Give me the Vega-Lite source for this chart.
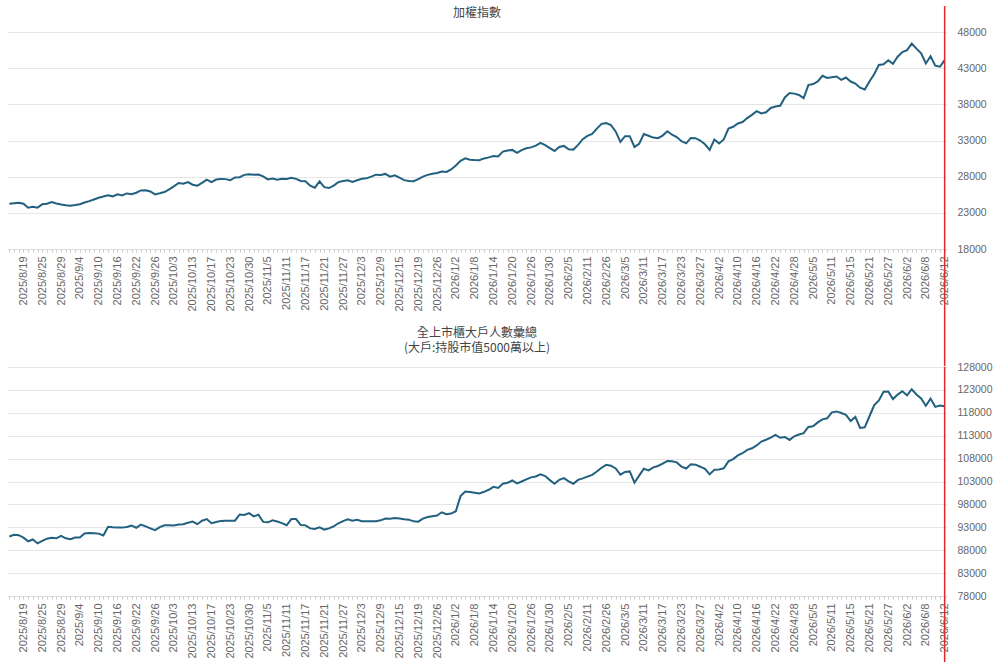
{
  "$schema": "https://vega.github.io/schema/vega-lite/v6.json",
  "description": "加權指數與全上市櫃大戶人數彙總",
  "padding": {"left": 3, "top": 5, "right": 0, "bottom": 0},
  "bounds": "flush",
  "spacing": 118,
  "datasets": {
    "daily": [
      {"date": "2025/8/14", "taiex": 24260, "holders": 90990},
      {"date": "2025/8/15", "taiex": 24330, "holders": 91350},
      {"date": "2025/8/18", "taiex": 24400, "holders": 91280},
      {"date": "2025/8/19", "taiex": 24250, "holders": 90750},
      {"date": "2025/8/20", "taiex": 23700, "holders": 89950},
      {"date": "2025/8/21", "taiex": 23850, "holders": 90340},
      {"date": "2025/8/22", "taiex": 23720, "holders": 89480},
      {"date": "2025/8/25", "taiex": 24200, "holders": 90020},
      {"date": "2025/8/26", "taiex": 24250, "holders": 90520},
      {"date": "2025/8/27", "taiex": 24480, "holders": 90700},
      {"date": "2025/8/28", "taiex": 24300, "holders": 90600},
      {"date": "2025/8/29", "taiex": 24150, "holders": 91150},
      {"date": "2025/9/1", "taiex": 24050, "holders": 90600},
      {"date": "2025/9/2", "taiex": 23990, "holders": 90420},
      {"date": "2025/9/3", "taiex": 24080, "holders": 90780},
      {"date": "2025/9/4", "taiex": 24190, "holders": 90780},
      {"date": "2025/9/5", "taiex": 24420, "holders": 91650},
      {"date": "2025/9/8", "taiex": 24620, "holders": 91780},
      {"date": "2025/9/9", "taiex": 24850, "holders": 91720},
      {"date": "2025/9/10", "taiex": 25080, "holders": 91620},
      {"date": "2025/9/11", "taiex": 25250, "holders": 91220},
      {"date": "2025/9/12", "taiex": 25420, "holders": 93100},
      {"date": "2025/9/15", "taiex": 25280, "holders": 93000},
      {"date": "2025/9/16", "taiex": 25560, "holders": 92960},
      {"date": "2025/9/17", "taiex": 25400, "holders": 92930},
      {"date": "2025/9/18", "taiex": 25680, "holders": 93060},
      {"date": "2025/9/19", "taiex": 25580, "holders": 93400},
      {"date": "2025/9/22", "taiex": 25780, "holders": 92900},
      {"date": "2025/9/23", "taiex": 26100, "holders": 93600},
      {"date": "2025/9/24", "taiex": 26120, "holders": 93200},
      {"date": "2025/9/25", "taiex": 25950, "holders": 92750},
      {"date": "2025/9/26", "taiex": 25550, "holders": 92380},
      {"date": "2025/9/30", "taiex": 25700, "holders": 93050},
      {"date": "2025/10/1", "taiex": 25880, "holders": 93450},
      {"date": "2025/10/2", "taiex": 26250, "holders": 93450},
      {"date": "2025/10/3", "taiex": 26650, "holders": 93380},
      {"date": "2025/10/7", "taiex": 27120, "holders": 93600},
      {"date": "2025/10/8", "taiex": 27030, "holders": 93650},
      {"date": "2025/10/9", "taiex": 27260, "holders": 93980},
      {"date": "2025/10/13", "taiex": 26890, "holders": 94250},
      {"date": "2025/10/14", "taiex": 26750, "holders": 93680},
      {"date": "2025/10/15", "taiex": 27150, "holders": 94440},
      {"date": "2025/10/16", "taiex": 27590, "holders": 94800},
      {"date": "2025/10/17", "taiex": 27260, "holders": 93900},
      {"date": "2025/10/20", "taiex": 27600, "holders": 94150},
      {"date": "2025/10/21", "taiex": 27690, "holders": 94400},
      {"date": "2025/10/22", "taiex": 27660, "holders": 94440},
      {"date": "2025/10/23", "taiex": 27500, "holders": 94440},
      {"date": "2025/10/27", "taiex": 27900, "holders": 94440},
      {"date": "2025/10/28", "taiex": 27920, "holders": 95800},
      {"date": "2025/10/29", "taiex": 28250, "holders": 95700},
      {"date": "2025/10/30", "taiex": 28320, "holders": 96100},
      {"date": "2025/10/31", "taiex": 28280, "holders": 95380},
      {"date": "2025/11/3", "taiex": 28290, "holders": 95740},
      {"date": "2025/11/4", "taiex": 28050, "holders": 94180},
      {"date": "2025/11/5", "taiex": 27620, "holders": 94080},
      {"date": "2025/11/6", "taiex": 27730, "holders": 94520},
      {"date": "2025/11/7", "taiex": 27590, "holders": 94280},
      {"date": "2025/11/10", "taiex": 27720, "holders": 93900},
      {"date": "2025/11/11", "taiex": 27680, "holders": 93440},
      {"date": "2025/11/12", "taiex": 27850, "holders": 94800},
      {"date": "2025/11/13", "taiex": 27700, "holders": 94800},
      {"date": "2025/11/14", "taiex": 27400, "holders": 93500},
      {"date": "2025/11/17", "taiex": 27360, "holders": 93420},
      {"date": "2025/11/18", "taiex": 26750, "holders": 92760},
      {"date": "2025/11/19", "taiex": 26480, "holders": 92650},
      {"date": "2025/11/20", "taiex": 27360, "holders": 93010},
      {"date": "2025/11/21", "taiex": 26550, "holders": 92500},
      {"date": "2025/11/24", "taiex": 26430, "holders": 92770},
      {"date": "2025/11/25", "taiex": 26760, "holders": 93220},
      {"date": "2025/11/26", "taiex": 27250, "holders": 93880},
      {"date": "2025/11/27", "taiex": 27400, "holders": 94350},
      {"date": "2025/11/28", "taiex": 27500, "holders": 94730},
      {"date": "2025/12/1", "taiex": 27270, "holders": 94450},
      {"date": "2025/12/2", "taiex": 27500, "holders": 94650},
      {"date": "2025/12/3", "taiex": 27720, "holders": 94330},
      {"date": "2025/12/4", "taiex": 27770, "holders": 94300},
      {"date": "2025/12/5", "taiex": 28000, "holders": 94300},
      {"date": "2025/12/8", "taiex": 28280, "holders": 94320},
      {"date": "2025/12/9", "taiex": 28230, "holders": 94520},
      {"date": "2025/12/10", "taiex": 28380, "holders": 94920},
      {"date": "2025/12/11", "taiex": 28000, "holders": 94890},
      {"date": "2025/12/12", "taiex": 28190, "holders": 95050},
      {"date": "2025/12/15", "taiex": 27860, "holders": 94940},
      {"date": "2025/12/16", "taiex": 27520, "holders": 94780},
      {"date": "2025/12/17", "taiex": 27400, "holders": 94670},
      {"date": "2025/12/18", "taiex": 27380, "holders": 94300},
      {"date": "2025/12/19", "taiex": 27650, "holders": 94230},
      {"date": "2025/12/22", "taiex": 28000, "holders": 94900},
      {"date": "2025/12/23", "taiex": 28250, "holders": 95260},
      {"date": "2025/12/24", "taiex": 28400, "holders": 95420},
      {"date": "2025/12/26", "taiex": 28500, "holders": 95580},
      {"date": "2025/12/29", "taiex": 28700, "holders": 96280},
      {"date": "2025/12/30", "taiex": 28650, "holders": 95850},
      {"date": "2025/12/31", "taiex": 29000, "holders": 95990},
      {"date": "2026/1/2", "taiex": 29550, "holders": 96500},
      {"date": "2026/1/5", "taiex": 30200, "holders": 99800},
      {"date": "2026/1/6", "taiex": 30530, "holders": 100800},
      {"date": "2026/1/7", "taiex": 30350, "holders": 100700},
      {"date": "2026/1/8", "taiex": 30300, "holders": 100560},
      {"date": "2026/1/9", "taiex": 30270, "holders": 100400},
      {"date": "2026/1/12", "taiex": 30520, "holders": 100750},
      {"date": "2026/1/13", "taiex": 30670, "holders": 101200},
      {"date": "2026/1/14", "taiex": 30850, "holders": 101830},
      {"date": "2026/1/15", "taiex": 30800, "holders": 101580},
      {"date": "2026/1/16", "taiex": 31460, "holders": 102520},
      {"date": "2026/1/19", "taiex": 31620, "holders": 102730},
      {"date": "2026/1/20", "taiex": 31700, "holders": 103220},
      {"date": "2026/1/21", "taiex": 31280, "holders": 102600},
      {"date": "2026/1/22", "taiex": 31660, "holders": 103000},
      {"date": "2026/1/23", "taiex": 31930, "holders": 103480},
      {"date": "2026/1/26", "taiex": 32050, "holders": 103900},
      {"date": "2026/1/27", "taiex": 32300, "holders": 104100},
      {"date": "2026/1/28", "taiex": 32680, "holders": 104580},
      {"date": "2026/1/29", "taiex": 32350, "holders": 104200},
      {"date": "2026/1/30", "taiex": 31950, "holders": 103300},
      {"date": "2026/2/2", "taiex": 31560, "holders": 102500},
      {"date": "2026/2/3", "taiex": 32100, "holders": 103380},
      {"date": "2026/2/4", "taiex": 32250, "holders": 103750},
      {"date": "2026/2/5", "taiex": 31780, "holders": 103020},
      {"date": "2026/2/6", "taiex": 31740, "holders": 102510},
      {"date": "2026/2/9", "taiex": 32400, "holders": 103350},
      {"date": "2026/2/10", "taiex": 33180, "holders": 103680},
      {"date": "2026/2/11", "taiex": 33630, "holders": 104060},
      {"date": "2026/2/23", "taiex": 33900, "holders": 104460},
      {"date": "2026/2/24", "taiex": 34650, "holders": 105180},
      {"date": "2026/2/25", "taiex": 35300, "holders": 106000},
      {"date": "2026/2/26", "taiex": 35400, "holders": 106650},
      {"date": "2026/3/2", "taiex": 35120, "holders": 106440},
      {"date": "2026/3/3", "taiex": 34250, "holders": 105840},
      {"date": "2026/3/4", "taiex": 32810, "holders": 104500},
      {"date": "2026/3/5", "taiex": 33600, "holders": 105100},
      {"date": "2026/3/6", "taiex": 33600, "holders": 105200},
      {"date": "2026/3/9", "taiex": 32110, "holders": 102730},
      {"date": "2026/3/10", "taiex": 32550, "holders": 104280},
      {"date": "2026/3/11", "taiex": 33900, "holders": 105780},
      {"date": "2026/3/12", "taiex": 33650, "holders": 105420},
      {"date": "2026/3/13", "taiex": 33400, "holders": 106100},
      {"date": "2026/3/16", "taiex": 33320, "holders": 106380},
      {"date": "2026/3/17", "taiex": 33680, "holders": 106880},
      {"date": "2026/3/18", "taiex": 34280, "holders": 107480},
      {"date": "2026/3/19", "taiex": 33800, "holders": 107420},
      {"date": "2026/3/20", "taiex": 33480, "holders": 107170},
      {"date": "2026/3/23", "taiex": 32900, "holders": 106250},
      {"date": "2026/3/24", "taiex": 32600, "holders": 105830},
      {"date": "2026/3/25", "taiex": 33350, "holders": 106760},
      {"date": "2026/3/26", "taiex": 33320, "holders": 106670},
      {"date": "2026/3/27", "taiex": 33000, "holders": 106230},
      {"date": "2026/3/30", "taiex": 32480, "holders": 105750},
      {"date": "2026/3/31", "taiex": 31700, "holders": 104550},
      {"date": "2026/4/1", "taiex": 33130, "holders": 105550},
      {"date": "2026/4/2", "taiex": 32600, "holders": 105620},
      {"date": "2026/4/7", "taiex": 33150, "holders": 105880},
      {"date": "2026/4/8", "taiex": 34650, "holders": 107400},
      {"date": "2026/4/9", "taiex": 34900, "holders": 107900},
      {"date": "2026/4/10", "taiex": 35350, "holders": 108700},
      {"date": "2026/4/13", "taiex": 35550, "holders": 109180},
      {"date": "2026/4/14", "taiex": 36100, "holders": 109900},
      {"date": "2026/4/15", "taiex": 36550, "holders": 110260},
      {"date": "2026/4/16", "taiex": 37050, "holders": 110880},
      {"date": "2026/4/17", "taiex": 36750, "holders": 111720},
      {"date": "2026/4/20", "taiex": 36900, "holders": 112110},
      {"date": "2026/4/21", "taiex": 37500, "holders": 112560},
      {"date": "2026/4/22", "taiex": 37700, "holders": 113160},
      {"date": "2026/4/23", "taiex": 37800, "holders": 112550},
      {"date": "2026/4/24", "taiex": 38950, "holders": 112720},
      {"date": "2026/4/27", "taiex": 39550, "holders": 112080},
      {"date": "2026/4/28", "taiex": 39480, "holders": 112870},
      {"date": "2026/4/29", "taiex": 39300, "holders": 113250},
      {"date": "2026/4/30", "taiex": 38850, "holders": 113560},
      {"date": "2026/5/4", "taiex": 40660, "holders": 114900},
      {"date": "2026/5/5", "taiex": 40800, "holders": 115050},
      {"date": "2026/5/6", "taiex": 41160, "holders": 115900},
      {"date": "2026/5/7", "taiex": 41950, "holders": 116570},
      {"date": "2026/5/8", "taiex": 41650, "holders": 116790},
      {"date": "2026/5/11", "taiex": 41750, "holders": 118100},
      {"date": "2026/5/12", "taiex": 41850, "holders": 118300},
      {"date": "2026/5/13", "taiex": 41380, "holders": 117950},
      {"date": "2026/5/14", "taiex": 41710, "holders": 117550},
      {"date": "2026/5/15", "taiex": 41150, "holders": 116200},
      {"date": "2026/5/18", "taiex": 40880, "holders": 117100},
      {"date": "2026/5/19", "taiex": 40300, "holders": 114700},
      {"date": "2026/5/20", "taiex": 40050, "holders": 114830},
      {"date": "2026/5/21", "taiex": 41160, "holders": 117250},
      {"date": "2026/5/22", "taiex": 42150, "holders": 119650},
      {"date": "2026/5/25", "taiex": 43450, "holders": 120700},
      {"date": "2026/5/26", "taiex": 43530, "holders": 122600},
      {"date": "2026/5/27", "taiex": 44100, "holders": 122640},
      {"date": "2026/5/28", "taiex": 43600, "holders": 121000},
      {"date": "2026/5/29", "taiex": 44580, "holders": 121980},
      {"date": "2026/6/1", "taiex": 45230, "holders": 122700},
      {"date": "2026/6/2", "taiex": 45500, "holders": 121800},
      {"date": "2026/6/3", "taiex": 46400, "holders": 123150},
      {"date": "2026/6/4", "taiex": 45700, "holders": 122000},
      {"date": "2026/6/5", "taiex": 45040, "holders": 121150},
      {"date": "2026/6/8", "taiex": 43650, "holders": 119550},
      {"date": "2026/6/9", "taiex": 44650, "holders": 121100},
      {"date": "2026/6/10", "taiex": 43350, "holders": 119300},
      {"date": "2026/6/11", "taiex": 43200, "holders": 119600},
      {"date": "2026/6/12", "taiex": 44120, "holders": 119430}
    ]
  },
  "data": {"name": "daily"},
  "vconcat": [
    {
      "width": 940,
      "height": 217,
      "title": {"text": "加權指數", "offset": -15},
      "encoding": {
        "x": {
          "field": "date",
          "type": "ordinal",
          "sort": null,
          "title": null,
          "scale": {"type": "point", "padding": 0.5},
          "axis": {
            "labelExpr": "indexof(['2025/8/19','2025/8/25','2025/8/29','2025/9/4','2025/9/10','2025/9/16','2025/9/22','2025/9/26','2025/10/3','2025/10/13','2025/10/17','2025/10/23','2025/10/30','2025/11/5','2025/11/11','2025/11/17','2025/11/21','2025/11/27','2025/12/3','2025/12/9','2025/12/15','2025/12/19','2025/12/26','2026/1/2','2026/1/8','2026/1/14','2026/1/20','2026/1/26','2026/1/30','2026/2/5','2026/2/11','2026/2/26','2026/3/5','2026/3/11','2026/3/17','2026/3/23','2026/3/27','2026/4/2','2026/4/10','2026/4/16','2026/4/22','2026/4/28','2026/5/5','2026/5/11','2026/5/15','2026/5/21','2026/5/27','2026/6/2','2026/6/8','2026/6/12'], datum.value) >= 0 ? datum.label : ''"
          }
        }
      },
      "layer": [
        {
          "mark": {"type": "line", "color": "#22607f", "strokeWidth": 2},
          "encoding": {
            "y": {
              "field": "taiex",
              "type": "quantitative",
              "title": null,
              "scale": {"domain": [18000, 48000], "nice": false, "zero": false},
              "axis": {"values": [18000, 23000, 28000, 33000, 38000, 43000, 48000], "format": "d"}
            }
          }
        },
        {
          "transform": [{"filter": "datum.date == '2026/6/12'"}],
          "mark": {"type": "rule", "color": "#e0282e", "strokeWidth": 1.5},
          "encoding": {
            "y": {"datum": 51600, "type": "quantitative", "axis": {"values": [18000, 23000, 28000, 33000, 38000, 43000, 48000], "format": "d"}},
            "y2": {"datum": 1800}
          }
        }
      ]
    },
    {
      "width": 940,
      "height": 229,
      "title": {"text": ["全上市櫃大戶人數彙總", "(大戶:持股市值5000萬以上)"], "offset": 7, "lineHeight": 15},
      "encoding": {
        "x": {
          "field": "date",
          "type": "ordinal",
          "sort": null,
          "title": null,
          "scale": {"type": "point", "padding": 0.5},
          "axis": {
            "labelExpr": "indexof(['2025/8/19','2025/8/25','2025/8/29','2025/9/4','2025/9/10','2025/9/16','2025/9/22','2025/9/26','2025/10/3','2025/10/13','2025/10/17','2025/10/23','2025/10/30','2025/11/5','2025/11/11','2025/11/17','2025/11/21','2025/11/27','2025/12/3','2025/12/9','2025/12/15','2025/12/19','2025/12/26','2026/1/2','2026/1/8','2026/1/14','2026/1/20','2026/1/26','2026/1/30','2026/2/5','2026/2/11','2026/2/26','2026/3/5','2026/3/11','2026/3/17','2026/3/23','2026/3/27','2026/4/2','2026/4/10','2026/4/16','2026/4/22','2026/4/28','2026/5/5','2026/5/11','2026/5/15','2026/5/21','2026/5/27','2026/6/2','2026/6/8','2026/6/12'], datum.value) >= 0 ? datum.label : ''"
          }
        }
      },
      "layer": [
        {
          "mark": {"type": "line", "color": "#22607f", "strokeWidth": 2},
          "encoding": {
            "y": {
              "field": "holders",
              "type": "quantitative",
              "title": null,
              "scale": {"domain": [78000, 128000], "nice": false, "zero": false},
              "axis": {"values": [78000, 83000, 88000, 93000, 98000, 103000, 108000, 113000, 118000, 123000, 128000], "format": "d"}
            }
          }
        },
        {
          "transform": [{"filter": "datum.date == '2026/6/12'"}],
          "mark": {"type": "rule", "color": "#e0282e", "strokeWidth": 1.5},
          "encoding": {
            "y": {"datum": 128000, "type": "quantitative", "axis": {"values": [78000, 83000, 88000, 93000, 98000, 103000, 108000, 113000, 118000, 123000, 128000], "format": "d"}},
            "y2": {"datum": 63500}
          }
        }
      ]
    }
  ],
  "config": {
    "view": {"stroke": null},
    "font": "Liberation Sans",
    "title": {"font": "Noto Sans CJK TC", "fontSize": 12, "fontWeight": "normal", "color": "#444", "anchor": "middle"},
    "axisY": {
      "orient": "right",
      "grid": true,
      "gridColor": "#e6e6e6",
      "domain": false,
      "ticks": false,
      "labelPadding": 10,
      "labelFontSize": 10.5,
      "labelColor": "#666"
    },
    "axisX": {
      "grid": false,
      "domainColor": "#dddddd",
      "tickColor": "#cccccc",
      "tickSize": 3,
      "labelAngle": -90,
      "labelFontSize": 11,
      "labelColor": "#666",
      "labelPadding": 4,
      "labelOverlap": false,
      "labelBound": false
    }
  }
}
